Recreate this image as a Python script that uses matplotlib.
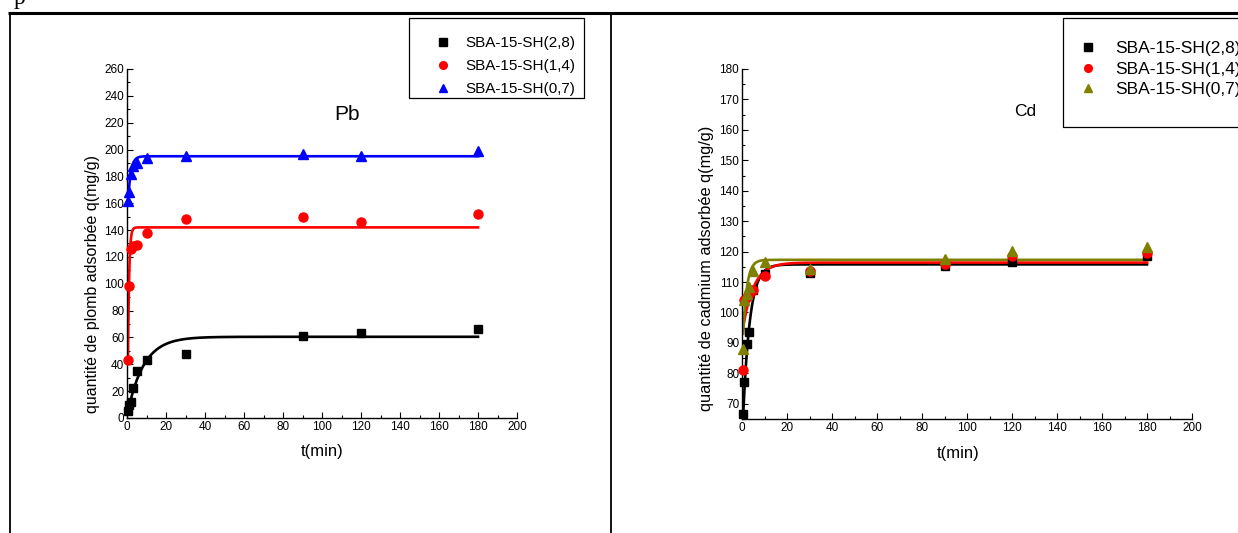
import numpy as np
import matplotlib.pyplot as plt
from matplotlib.lines import Line2D
from matplotlib.patches import Rectangle

plt.rcParams['font.family'] = ['Liberation Sans', 'DejaVu Sans']

# contact time (min)
t_min = [0.5, 1, 2, 3, 5, 10, 30, 90, 120, 180]
labels = ['SBA-15-SH(2,8)', 'SBA-15-SH(1,4)', 'SBA-15-SH(0,7)']

# Pb uptake q (mg/g)
pb_28 = [5, 10, 12, 22, 35, 43, 48, 61, 63, 66]
pb_14 = [43, 98, 126, 128, 129, 138, 148, 150, 146, 152]
pb_07 = [162, 168, 182, 188, 190, 194, 195, 197, 195, 199]

# Cd uptake q (mg/g)
cd_28 = [66.5, 77, 89.5, 93.5, 107.5, 112.5, 113, 115.3, 116.7, 118.4]
cd_14 = [81, 104, 105, 106, 107.5, 112, 113.5, 116, 118.4, 119.5]
cd_07 = [88, 104, 106, 108.5, 113.5, 116.5, 114.2, 117.5, 120.3, 121.5]

# kinetic fits: q(t) = qe - (qe - q0) * exp(-k (t - t0))
pb_q0 = [5, 43, 160]
pb_qe = [60.5, 142, 195]
pb_k = [0.12, 1.62, 0.71]
cd_q0 = [66, 95, 93]
cd_qe = [115.8, 116.4, 117.3]
cd_k = [0.33, 0.21, 0.58]
t0 = 0.5

W, H = 1238, 533
fig = plt.figure(figsize=(W / 100, H / 100), dpi=100)


def px(x0, y0, x1, y1):
    return [x0 / W, 1 - y1 / H, (x1 - x0) / W, (y1 - y0) / H]


def model(q0, qe, k, t):
    return qe - (qe - q0) * np.exp(-k * (t - t0))


def style_axes(ax):
    for s in ['top', 'right']:
        ax.spines[s].set_visible(False)
    for s in ['left', 'bottom']:
        ax.spines[s].set_linewidth(1.0)
    ax.tick_params(which='both', direction='in', labelsize=8.5, pad=2, width=0.8)
    ax.tick_params(which='major', length=4)
    ax.tick_params(which='minor', length=2)
    ax.set_xlim(0, 200)
    ax.set_xticks(np.arange(0, 201, 20))
    ax.set_xticks(np.arange(10, 200, 20), minor=True)


def draw_panel(ax, series, q0s, qes, ks, colors, markers, sizes):
    tt = np.linspace(t0, 180, 800)
    for q, q0, qe, k, c, m, ms in zip(series, q0s, qes, ks, colors, markers, sizes):
        ax.plot(tt, model(q0, qe, k, tt), color=c, lw=1.9, zorder=2)
        ax.plot(t_min, q, ls='none', marker=m, ms=ms, color=c, mec=c, zorder=3, clip_on=False)


# ---- Pb panel
ax1 = fig.add_axes(px(127, 69, 517, 418))
style_axes(ax1)
ax1.set_ylim(0, 260)
ax1.set_yticks(np.arange(0, 261, 20))
ax1.set_yticks(np.arange(10, 260, 20), minor=True)
pb_colors = ['black', '#ff0000', '#0000ff']
markers = ['s', 'o', '^']
sizes = [6, 6.5, 7]
draw_panel(ax1, [pb_28, pb_14, pb_07], pb_q0, pb_qe, pb_k, pb_colors, markers, sizes)
ax1.set_xlabel('t(min)', fontsize=12)
ax1.xaxis.set_label_coords(0.5, -0.075)
ax1.set_ylabel('quantité de plomb adsorbée q(mg/g)', fontsize=11.5)
ax1.yaxis.set_label_coords(-0.068, 0.385)
ax1.text(113, 226, 'Pb', fontsize=15, ha='center', va='center')

# ---- Cd panel
ax2 = fig.add_axes(px(742, 69, 1192, 419))
style_axes(ax2)
ax2.set_ylim(65, 180)
ax2.set_yticks(np.arange(70, 181, 10))
ax2.set_yticks(np.arange(65, 180, 10), minor=True)
cd_colors = ['black', '#ff0000', '#808000']
draw_panel(ax2, [cd_28, cd_14, cd_07], cd_q0, cd_qe, cd_k, cd_colors, markers, sizes)
ax2.set_xlabel('t(min)', fontsize=12)
ax2.xaxis.set_label_coords(0.48, -0.077)
ax2.set_ylabel('quantité de cadmium adsorbée q(mg/g)', fontsize=11.8)
ax2.yaxis.set_label_coords(-0.062, 0.43)
ax2.text(126, 166, 'Cd', fontsize=12.5, ha='center', va='center')


# ---- legends (marker only), framed by a plain box
def add_legend(colors, x_marker, y_mid, box, gap, fs, spacing):
    hl = 1.4
    handles = [Line2D([], [], ls='none', marker=m, ms=s * 0.85, color=c, mec=c)
               for c, m, s in zip(colors, markers, sizes)]
    fsp = fs * 100 / 72
    leg = fig.legend(handles, labels, loc='center left', frameon=False,
                     bbox_to_anchor=((x_marker - hl * fsp / 2) / W, 1 - y_mid / H),
                     fontsize=fs, handlelength=hl, handletextpad=(gap / fsp) - hl / 2,
                     labelspacing=spacing, borderpad=0, borderaxespad=0)
    fig.add_artist(Rectangle((box[0] / W, 1 - box[3] / H), (box[2] - box[0]) / W,
                             (box[3] - box[1]) / H, transform=fig.transFigure,
                             fill=False, ec='black', lw=0.9))
    return leg


add_legend(pb_colors, 443, 66, (409, 18, 584, 98), 22, 11, 0.58)
add_legend(cd_colors, 1088, 69, (1063, 18, 1260, 127), 27, 12.5, 0.33)

# ---- table borders
def fig_line(x0, y0, x1, y1, lw):
    fig.add_artist(Line2D([x0 / W, x1 / W], [1 - y0 / H, 1 - y1 / H], color='black',
                          lw=lw, transform=fig.transFigure, solid_capstyle='butt'))


fig_line(8, 12.5, W, 12.5, 2.2)
fig_line(9.5, 12, 9.5, H, 1.3)
fig_line(611, 12, 611, H, 1.3)

fig.text(14 / W, 1 - 4 / H, 'p', fontsize=17, family='Liberation Serif', va='baseline')

fig.savefig('out.png', dpi=100)
